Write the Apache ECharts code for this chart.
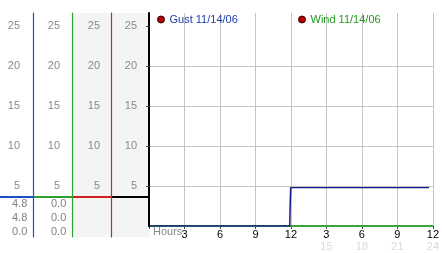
<!DOCTYPE html>
<html><head><meta charset="utf-8">
<script src="https://cdn.jsdelivr.net/npm/echarts@6/dist/echarts.min.js"></script>
<style>html,body{margin:0;padding:0;background:#fff}#c{width:442px;height:253px}</style>
</head><body><div id="c"></div>
<script>
// ---- data ----
const gustName = 'Gust 11/14/06';
const windName = 'Wind 11/14/06';
const gustHours = [0, 2, 4, 6, 8, 10, 11.9, 11.93, 11.98, 14, 16, 18, 20, 22, 23.67];
const gustValues = [0, 0, 0, 0, 0, 0, 0, 2.4, 4.8, 4.8, 4.8, 4.8, 4.8, 4.8, 4.8];
const windHours = [0, 3, 6, 9, 12, 15, 18, 21, 24];
const windValues = [0, 0, 0, 0, 0, 0, 0, 0, 0];
const yTicks = [5, 10, 15, 20, 25];
const xTicks = [3, 6, 9, 12, 15, 18, 21, 24];
const gustStats = ['4.8', '4.8', '0.0'];
const windStats = ['0.0', '0.0', '0.0'];
const dividerLevel = 3.625;

// ---- chart ----
const FONT = 'Liberation Sans, Arial, sans-serif';
const chart = echarts.init(document.getElementById('c'), null, {renderer: 'canvas'});
const colTop = 13, colH = 224;
const colMin = -1.375, yMax = 26.625;
const cols = [
  {left: 0, width: 33, line: '#1f4fd0', div: '#1f4fc8', bg: null, margin: 13, showAxis: true},
  {left: 33, width: 39, line: '#2ea02e', div: '#2da02d', bg: null, margin: 12, showAxis: true},
  {left: 72, width: 39, line: '#c82828', div: '#d02020', bg: '#f4f4f4', margin: 11, showAxis: true},
  {left: 111, width: 38, line: '#000', div: '#000', bg: '#f4f4f4', margin: 12, showAxis: false}
];
const grids = [], xAxes = [], yAxes = [], series = [];
cols.forEach((c, i) => {
  grids.push({left: c.left, top: colTop, width: c.width, height: colH, z: 0,
    show: !!c.bg, backgroundColor: c.bg || 'transparent', borderWidth: 0});
  xAxes.push({gridIndex: i, type: 'value', min: 0, max: 1, show: false});
  yAxes.push({gridIndex: i, type: 'value', min: colMin, max: yMax, position: 'right', z: 8,
    axisLine: {show: c.showAxis, onZero: false, lineStyle: {color: c.line, width: 1.2}},
    axisTick: {show: false}, splitLine: {show: false},
    axisLabel: {show: c.showAxis, inside: true, margin: c.margin, color: '#8a8a8a', fontSize: 11,
      fontFamily: FONT, customValues: yTicks}});
  series.push({type: 'line', xAxisIndex: i, yAxisIndex: i, data: [[0, dividerLevel], [1, dividerLevel]],
    symbol: 'none', silent: true, lineStyle: {color: c.div, width: 2}, z: 5});
});
// main grid
const M = cols.length;
grids.push({left: 149, top: 13, width: 289, height: 213, show: false});
xAxes.push({gridIndex: M, type: 'value', min: 0, max: 24, interval: 3,
  axisLine: {show: true, lineStyle: {color: '#000', width: 1}},
  axisTick: {show: true, length: 3, lineStyle: {color: '#444'}},
  splitLine: {show: true, lineStyle: {color: '#c4c4c4', width: 1}},
  axisLabel: {margin: 3, color: '#000', fontSize: 11, fontFamily: FONT, lineHeight: 11,
    customValues: xTicks,
    formatter: v => v > 12 ? (v - 12) + '\n{g|' + v + '}' : String(v),
    rich: {g: {color: '#dadada', fontSize: 11, fontFamily: FONT, lineHeight: 13}}}});
yAxes.push({gridIndex: M, type: 'value', min: 0, max: yMax, interval: 5, z: 8,
  axisLine: {show: true, onZero: false, lineStyle: {color: '#000', width: 2}},
  axisTick: {show: true, length: 3, customValues: yTicks, lineStyle: {color: '#444'}},
  splitLine: {show: true, showMaxLine: false, lineStyle: {color: '#c4c4c4', width: 1}},
  axisLabel: {margin: 12, color: '#8a8a8a', fontSize: 11, fontFamily: FONT, customValues: yTicks}});
series.push({name: windName, type: 'line', xAxisIndex: M, yAxisIndex: M,
  data: windHours.map((h, i) => [h, windValues[i]]), symbol: 'none',
  lineStyle: {color: '#3aa53a', width: 2}, itemStyle: {color: '#3aa53a'}, z: 6});
series.push({name: gustName, type: 'line', xAxisIndex: M, yAxisIndex: M,
  data: gustHours.map((h, i) => [h, gustValues[i]]), symbol: 'none',
  lineStyle: {color: '#16168a', width: 1.5}, itemStyle: {color: '#16168a'}, z: 7});

const legendBase = {orient: 'horizontal', top: 14, padding: 0, icon: 'circle', itemWidth: 7, itemHeight: 7,
  textStyle: {fontSize: 11, fontFamily: FONT}, selectedMode: false};
const mk = (x, y, t) => ({type: 'text', left: x, top: y, style: {text: t, fill: '#808080', font: '11px ' + FONT}});
const graphics = [{type: 'text', left: 153, top: 226, style: {text: 'Hours', fill: '#8a8a8a', font: '11px ' + FONT}}];
gustStats.forEach((t, i) => graphics.push(mk(12, 198 + i * 14.3, t)));
windStats.forEach((t, i) => graphics.push(mk(51, 198 + i * 14.3, t)));

chart.setOption({
  animation: false,
  textStyle: {fontFamily: FONT},
  grid: grids, xAxis: xAxes, yAxis: yAxes, series: series,
  legend: [
    Object.assign({}, legendBase, {left: 157, data: [{name: gustName,
      itemStyle: {color: '#b00000', borderColor: '#400000', borderWidth: 1}, textStyle: {color: '#1c3ca8'}}]}),
    Object.assign({}, legendBase, {left: 298, data: [{name: windName,
      itemStyle: {color: '#b00000', borderColor: '#400000', borderWidth: 1}, textStyle: {color: '#1f9a1f'}}]})
  ],
  graphic: graphics
});
</script></body></html>
